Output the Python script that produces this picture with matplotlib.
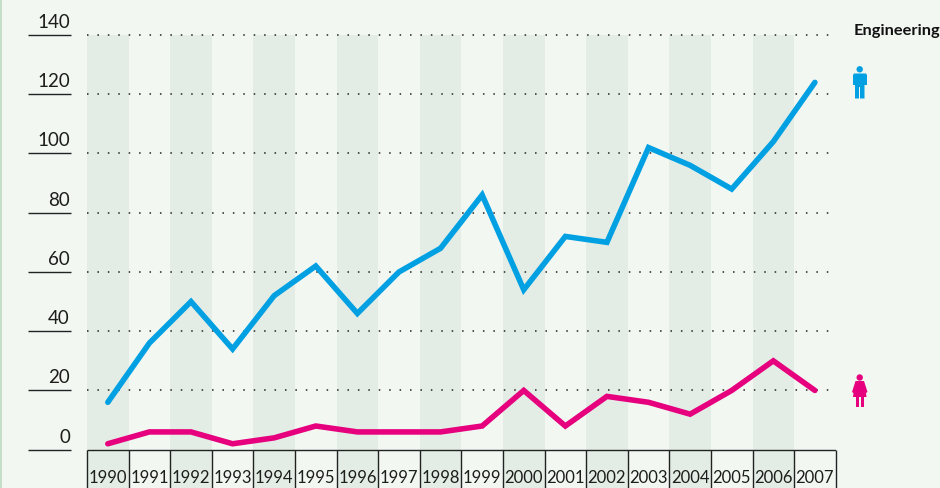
import matplotlib
matplotlib.use('Agg')
import matplotlib.pyplot as plt
from matplotlib.patches import Circle, Polygon, Rectangle
from matplotlib.transforms import blended_transform_factory, Affine2D

plt.rcParams['font.family'] = ['Lato', 'DejaVu Sans']

years = list(range(1990, 2008))
men = [16, 36, 50, 34, 52, 62, 46, 60, 68, 86, 54, 72, 70, 102, 96, 88, 104, 124]
women = [2, 6, 6, 2, 4, 8, 6, 6, 6, 8, 20, 8, 18, 16, 12, 20, 30, 20]
y_ticks = [0, 20, 40, 60, 80, 100, 120, 140]
title = 'Engineering'

BG = '#f2f7f2'
BAND = '#e3ede6'
BLUE = '#00a0e3'
PINK = '#e6007e'
INK = '#1d1d1b'
W, H = 940, 488

fig = plt.figure(figsize=(W / 100, H / 100), dpi=100, facecolor=BG)
ax = fig.add_axes([87 / W, 0, (835.7 - 87) / W, (H - 35) / H])
ax.set_xlim(-0.5, 17.5)
ax.set_ylim(-12.93, 140)
ax.axis('off')

# pixel coords, y from the top, for the furniture outside the axes
px = Affine2D().scale(1, -1).translate(0, H)

fig.add_artist(Rectangle((0, 0), 2, H, transform=px, color='#c6dfc9', lw=0))

for i, year in enumerate(years):
    if i % 2 == 0:
        ax.axvspan(i - 0.5, i + 0.5, color=BAND, lw=0, zorder=0)
    ax.text(i, -9.7, str(year), ha='center', va='center', fontsize=12, color=INK, zorder=5)

ax.vlines([i - 0.5 for i in range(len(years) + 1)], -12.93, 0, color='#222222', lw=1, clip_on=False, zorder=3)
ax.hlines(0, -0.5, 17.5, color='#222222', lw=1, zorder=3)

ax.hlines([t for t in y_ticks if t > 0], -0.5, 17.42, color='#222222', lw=1.1,
          linestyle=(0, (1, 5.82)), zorder=1, clip_on=False)

trans = blended_transform_factory(px, ax.transData)
for t in y_ticks:
    ax.plot([28, 71], [t, t], transform=trans, color='#222222', lw=1, clip_on=False, solid_capstyle='butt')
    ax.text(70, t + 1.4, str(t), transform=trans, ha='right', va='bottom', fontsize=13.5, color=INK)

ax.plot(range(len(years)), men, color=BLUE, lw=4, solid_capstyle='round', solid_joinstyle='miter', zorder=4)
ax.plot(range(len(years)), women, color=PINK, lw=4, solid_capstyle='round', solid_joinstyle='miter', zorder=4)

fig.text(854 / W, 1 - 31 / H, title, fontsize=11.8, fontweight='bold', color='#111111', ha='left', va='center')

# man icon
fig.add_artist(Circle((859.7, 69.3), 3.2, transform=px, color=BLUE, lw=0))
fig.add_artist(Polygon([(854, 73.5), (866, 73.5), (867, 75), (867, 85), (864.5, 85), (864.5, 98.5), (855, 98.5),
                        (855, 85), (853, 85), (853, 75)], transform=px, color=BLUE, lw=0))
fig.add_artist(Rectangle((859.3, 87), 0.8, 12, transform=px, color=BG, lw=0))

# woman icon
fig.add_artist(Circle((859.7, 377.5), 3.2, transform=px, color=PINK, lw=0))
fig.add_artist(Polygon([(855.5, 381), (864, 381), (867.5, 392), (866, 393), (866.5, 397), (853, 397),
                        (853.5, 393), (852, 392)], transform=px, color=PINK, lw=0))
fig.add_artist(Rectangle((856, 397), 3, 10, transform=px, color=PINK, lw=0))
fig.add_artist(Rectangle((860.5, 397), 3, 10, transform=px, color=PINK, lw=0))

fig.savefig('out.png', dpi=100, facecolor=BG)
